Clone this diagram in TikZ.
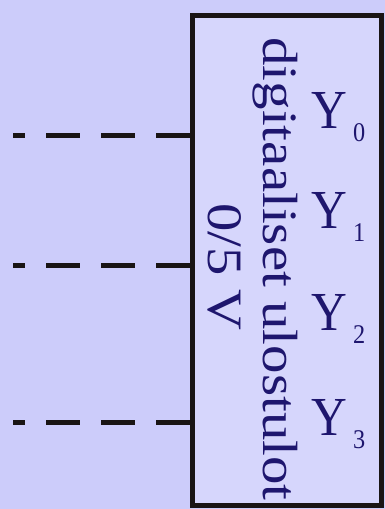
\documentclass[tikz,border=0pt]{standalone}
\usepackage{fontspec}
\setmainfont{Liberation Serif}
\usepackage{xcolor}
\usepackage{tikz}
\usetikzlibrary{positioning, calc}

\definecolor{bgblue}{RGB}{204,204,250}
\definecolor{boxblue}{RGB}{214,214,252}
\definecolor{inkblue}{RGB}{30,22,110}
\definecolor{edgeblack}{RGB}{25,20,20}

\newcommand{\bigtext}{\fontsize{55}{55}\selectfont}
\newcommand{\subtext}{\fontsize{27}{27}\selectfont}

\begin{document}
\begin{tikzpicture}[x=1pt, y=-1pt,
    outline/.style={draw=edgeblack, line width=5pt, fill=boxblue, minimum width=189pt, minimum height=490pt, inner sep=0pt},
    label/.style={text=inkblue, inner sep=0pt, font=\bigtext},
    wire/.style={draw=edgeblack, line width=5pt, dash pattern=on 34pt off 21pt}]
    \fill[bgblue] (0,0) rectangle (385,509);
    \useasboundingbox (0,0) rectangle (385,509);

    \node (outbox) [outline] at (286.5,260) {};
    \node (title) [label, rotate=-90, xscale=1.035, yscale=0.9, anchor=base] at (263,269) {digitaaliset ulostulot};
    \node (range) [label, rotate=-90, xscale=1.03, yscale=0.9, anchor=base] at (208,267) {0/5 V};

    \foreach \i/\y in {0/128, 1/228, 2/330, 3/435}
        \node (y\i) [label, xscale=0.9, anchor=base west] at (311,\y) {Y\hspace{7pt}\raisebox{-13pt}{\subtext\i}};

    \foreach \j/\y in {0/135, 1/265, 2/422} {
        \coordinate (in\j) at (13,\y);
        \draw [wire] (in\j -| outbox.west) -- (in\j);
    }
\end{tikzpicture}
\end{document}
